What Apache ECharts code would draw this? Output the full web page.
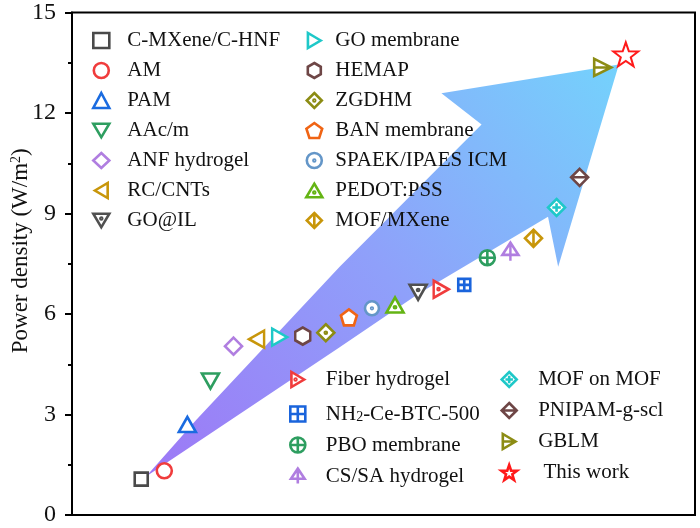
<!DOCTYPE html>
<html><head><meta charset="utf-8">
<script src="https://cdn.jsdelivr.net/npm/echarts@6/dist/echarts.min.js"></script>
<style>html,body{margin:0;padding:0;background:#fff}#c{width:700px;height:528px}</style>
</head><body><div id="c"></div>
<script>
const names = ['C-MXene/C-HNF','AM','PAM','AAc/m','ANF hydrogel','RC/CNTs','GO membrane','HEMAP','ZGDHM','BAN membrane','SPAEK/IPAES ICM','PEDOT:PSS','GO@IL','Fiber hydrogel','NH2-Ce-BTC-500','PBO membrane','CS/SA hydrogel','MOF/MXene','MOF on MOF','PNIPAM-g-scl','GBLM','This work'];
const xs = [1,2,3,4,5,6,7,8,9,10,11,12,13,14,15,16,17,18,19,20,21,22];
const ys = [1.07,1.32,2.70,4.00,5.04,5.25,5.31,5.34,5.44,5.90,6.17,6.27,6.65,6.74,6.87,7.68,7.86,8.26,9.18,10.08,13.36,13.75];
const colors = ['#4a4a4a','#f03c3c','#1a6be0','#2e9e60','#b07ee0','#c8960a','#1ec8c8','#6e4646','#8c8c14','#f06414','#6496c8','#64b414','#505050','#f03c3c','#1a64dc','#2e9e60','#b07ee0','#c8960a','#1ec8c8','#6e4646','#8c8c14','#ff1a1a'];

const yTicks = [0,3,6,9,12,15];
const legendCol1 = ['C-MXene/C-HNF','AM','PAM','AAc/m','ANF hydrogel','RC/CNTs','GO@IL'];
const legendCol2 = ['GO membrane','HEMAP','ZGDHM','BAN membrane','SPAEK/IPAES ICM','PEDOT:PSS','MOF/MXene'];
const legendCol3 = ['Fiber hydrogel','NH2-Ce-BTC-500','PBO membrane','CS/SA hydrogel'];
const legendCol4 = ['MOF on MOF','PNIPAM-g-scl','GBLM','This work'];

// decorative arrow outline (data units)
const arrowX = [1.21, 9.60, 13.07, 18.63, 19.07, 21.70, 14.01, 15.75, 9.60, 3.39];
const arrowY = [1.15, 5.01, 6.63, 8.90, 7.41, 13.45, 12.59, 11.66, 7.41, 2.84];

const dot = (cx, cy) => ` M${cx-1.2},${cy}A1.2,1.2,0,1,1,${cx+1.2},${cy}A1.2,1.2,0,1,1,${cx-1.2},${cy}Z`;
const CIRC = 'M0,10A10,10,0,1,1,20,10A10,10,0,1,1,0,10Z';
const DIAM = 'M10,0L20,10L10,20L0,10Z';
const symbols = [
  ['rect',[13,13]],
  ['circle',[15,15]],
  ['triangle',[17,15]],
  ['path://M0,0L20,0L10,17Z',[17,15]],
  ['diamond',[17,17]],
  ['path://M0,10L17,0L17,20Z',[15,17]],
  ['path://M17,10L0,0L0,20Z',[15,17]],
  ['path://M10,0L18.66,5L18.66,15L10,20L1.34,15L1.34,5Z',[15,17]],
  ['path://'+DIAM+dot(10,10),[17,17]],
  ['path://M10,0L19.51,6.91L15.88,18.09L4.12,18.09L0.49,6.91Z',[16,16]],
  ['path://'+CIRC+dot(10,10),[14,14]],
  ['path://M10,0L20,17L0,17Z'+dot(10,11),[17,15]],
  ['path://M0,0L20,0L10,17Z'+dot(10,6),[17,15]],
  ['path://M17,10L0,0L0,20Z'+dot(5.5,10),[15,17]],
  ['path://M0,0L20,0L20,20L0,20Z M10,0L10,20 M0,10L20,10',[12,12]],
  ['path://'+CIRC+' M10,0L10,20 M0,10L20,10',[15,15]],
  ['path://M10,0L20,15L0,15Z M10,0L10,22',[16,18]],
  ['path://'+DIAM+' M10,0L10,20',[17,17]],
  ['path://'+DIAM+' M10,5L10,15 M5,10L15,10',[17,17]],
  ['path://'+DIAM+' M0,10L20,10',[17,17]],
  ['path://M17,10L0,0L0,20Z M0,10L17,10',[17,17]],
  ['path://M10,0L12.35,6.76L19.51,6.91L13.80,11.24L15.88,18.09L10,14L4.12,18.09L6.20,11.24L0.49,6.91L7.65,6.76Z',[25,24]]
];

const FONT = 'Liberation Serif';
const chart = echarts.init(document.getElementById('c'));

const series = [{
  type: 'custom', silent: true, z: 1,
  data: [[0, 0]],
  renderItem: function (params, api) {
    const pts = arrowX.map((x, i) => api.coord([x, arrowY[i]]));
    return {
      type: 'polygon',
      shape: { points: pts },
      style: {
        fill: new echarts.graphic.LinearGradient(0, 1, 1, 0, [
          { offset: 0, color: '#9d78f6' },
          { offset: 0.5, color: '#8fa0fa' },
          { offset: 1, color: '#74d2fc' }
        ])
      }
    };
  }
}];
names.forEach((n, i) => {
  series.push({
    type: 'scatter', name: n, z: 5,
    symbol: symbols[i][0], symbolSize: symbols[i][1],
    data: [[xs[i], ys[i]]],
    itemStyle: { color: '#fff', borderColor: colors[i], borderWidth: i === 21 ? 2 : 2.6, opacity: 1 }
  });
});

const legendBase = {
  orient: 'vertical', itemWidth: 16, itemHeight: 15, padding: 0,
  selectedMode: false,
  itemStyle: { borderWidth: 2.6 },
  textStyle: {
    fontFamily: FONT, fontSize: 21, color: '#111', lineHeight: 20,
    rich: { sub: { fontFamily: FONT, fontSize: 14, lineHeight: 14, padding: [10, 0, 0, 0], verticalAlign: 'bottom', color: '#111' } }
  }
};
function legendFormatter(n) {
  if (n === 'NH2-Ce-BTC-500') return 'NH{sub|2}-Ce-BTC-500';
  if (n === 'This work') return ' This work';
  return n;
}
function mkLegend(data, left, top, pad, gap) {
  const l = JSON.parse(JSON.stringify(legendBase));
  l.formatter = legendFormatter;
  l.data = data; l.left = left; l.top = top; l.itemGap = gap;
  l.textStyle.padding = [0, 0, 0, pad];
  return l;
}

chart.setOption({
  animation: false,
  grid: { left: 72, right: 5, top: 12.5, bottom: 13, show: true, borderColor: '#000', borderWidth: 2,
    containLabel: false, outerBoundsMode: 'none' },
  xAxis: { type: 'value', min: -2, max: 25, axisLabel: { show: false }, axisTick: { show: false }, splitLine: { show: false },
    axisLine: { onZero: false, lineStyle: { color: '#000', width: 2 } } },
  yAxis: { type: 'value', min: yTicks[0], max: yTicks[yTicks.length - 1], interval: 3,
    name: 'Power density (W/m{sup|2})', nameLocation: 'middle', nameGap: 40, nameMoveOverlap: false,
    nameTextStyle: { fontFamily: FONT, fontSize: 23, color: '#111', padding: [0, 0, 0, 26],
      rich: { sup: { fontFamily: FONT, fontSize: 14, lineHeight: 14, padding: [0, 0, 10, 0], verticalAlign: 'top', color: '#111' } } },
    axisLine: { show: true, onZero: false, lineStyle: { color: '#000', width: 2 } },
    axisTick: { show: true, length: 7, lineStyle: { width: 2, color: '#000' } },
    minorTick: { show: true, splitNumber: 2, length: 4, lineStyle: { width: 2, color: '#000' } },
    axisLabel: { fontFamily: FONT, fontSize: 24, color: '#111', margin: 16 },
    splitLine: { show: false } },
  legend: [
    mkLegend(legendCol1, 92, 30, 13, 9),
    mkLegend(legendCol2, 305, 30, 8, 9),
    mkLegend(legendCol3, 289, 369, 15, 10),
    mkLegend(legendCol4, 500, 369, 16, 10)
  ],
  series: series
});
</script></body></html>
